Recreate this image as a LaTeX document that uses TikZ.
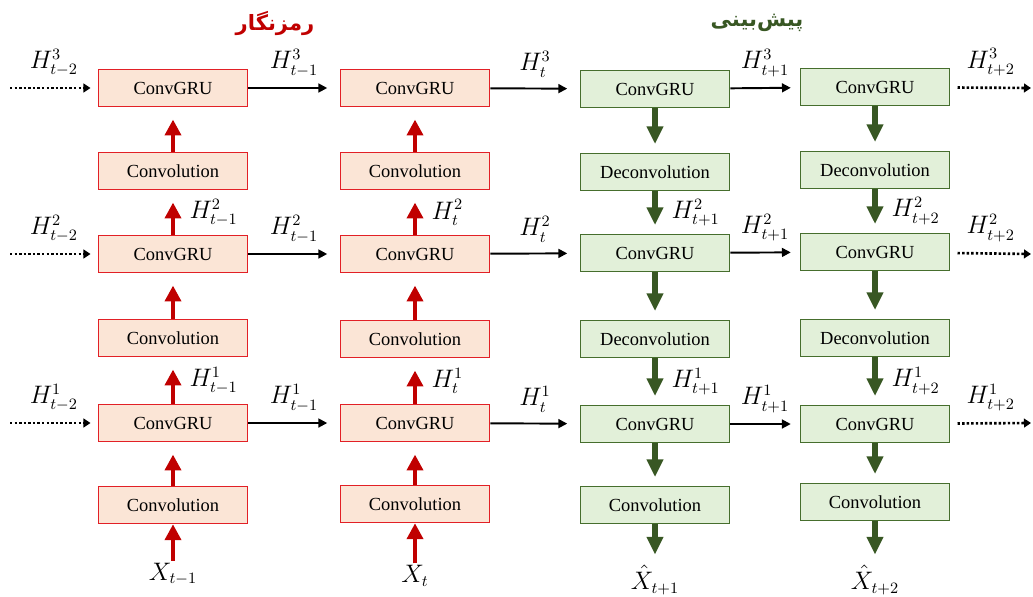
\documentclass[tikz,border=0pt]{standalone}
\usepackage{fontspec}
\setmainfont{Liberation Serif}
\newfontfamily\farsi[Script=Arabic]{DejaVu Sans}
\TeXXeTstate=1
\usetikzlibrary{arrows.meta,positioning}
\definecolor{encfill}{RGB}{251,229,214}
\definecolor{encline}{RGB}{226,32,38}
\definecolor{encarr}{RGB}{192,0,0}
\definecolor{decfill}{RGB}{226,240,217}
\definecolor{decline}{RGB}{70,110,45}
\definecolor{decarr}{RGB}{56,87,35}
\tikzset{
	encbox/.style={draw=encline, fill=encfill, line width=0.9pt, minimum width=85pt, minimum height=21pt, inner sep=0pt, font=\fontsize{10.5}{12}\selectfont},
	decbox/.style={draw=decline, fill=decfill, line width=0.9pt, minimum width=85pt, minimum height=21pt, inner sep=0pt, font=\fontsize{10.5}{12}\selectfont},
	encarrow/.style={draw=encarr, line width=2.8pt, -{Triangle[width=9pt,length=9pt]}, shorten >=7pt},
	decarrow/.style={draw=decarr, line width=3pt, -{Triangle[width=9pt,length=10pt]}, shorten >=5pt},
	flow/.style={draw=black, line width=1.1pt, -{Triangle[width=5pt,length=5pt]}, shorten >=7pt},
	dotflow/.style={draw=black, line width=1.5pt, dash pattern=on 1.4pt off 1.2pt, -{Triangle[width=5pt,length=4pt]}},
	lab/.style={font=\fontsize{13.5}{15}\selectfont, inner sep=1pt}
}
\begin{document}
\begin{tikzpicture}[x=0.02cm, y=-0.02cm]
		\useasboundingbox (0,0) rectangle (1033,596);
		% titles
		\node (enctitle) at (275,23) {\color{encarr}\farsi\bfseries\fontsize{12}{14}\selectfont\beginR رمزنگار\endR};
		\node (dectitle) at (757,23) {\color{decarr}\farsi\bfseries\fontsize{12}{14}\selectfont\beginR پیش‌بینی\endR};
		% encoder, t-1
		\node [encbox] (g13) at (173,88) {ConvGRU};
		\node [encbox] (c13) at (173,171) {Convolution};
		\node [encbox] (g12) at (173,254) {ConvGRU};
		\node [encbox] (c12) at (173,338) {Convolution};
		\node [encbox] (g11) at (173,423) {ConvGRU};
		\node [encbox] (c11) at (173,505) {Convolution};
		\node [lab] (x1) at (173,574) {$X_{t-1}$};
		% encoder, t
		\node [encbox] (g23) at (415,88) {ConvGRU};
		\node [encbox] (c23) at (415,171) {Convolution};
		\node [encbox] (g22) at (415,254) {ConvGRU};
		\node [encbox] (c22) at (415,339) {Convolution};
		\node [encbox] (g21) at (415,423) {ConvGRU};
		\node [encbox] (c21) at (415,504) {Convolution};
		\node [lab] (x2) at (415,576) {$X_{t}$};
		% prediction, t+1
		\node [decbox] (g33) at (655,89) {ConvGRU};
		\node [decbox] (d33) at (655,172) {Deconvolution};
		\node [decbox] (g32) at (655,253) {ConvGRU};
		\node [decbox] (d32) at (655,339) {Deconvolution};
		\node [decbox] (g31) at (655,424) {ConvGRU};
		\node [decbox] (c31) at (655,505) {Convolution};
		\node [lab] (y3) at (655,580) {$\hat{X}_{t+1}$};
		% prediction, t+2
		\node [decbox] (g43) at (875,87) {ConvGRU};
		\node [decbox] (d43) at (875,170) {Deconvolution};
		\node [decbox] (g42) at (875,252) {ConvGRU};
		\node [decbox] (d42) at (875,338) {Deconvolution};
		\node [decbox] (g41) at (875,424) {ConvGRU};
		\node [decbox] (c41) at (875,502) {Convolution};
		\node [lab] (y4) at (875,580) {$\hat{X}_{t+2}$};
		% loose ends
		\coordinate (in3) at (10,88);
		\coordinate (in2) at (10,254);
		\coordinate (in1) at (10,423);
		\coordinate (out3) at (1031,88);
		\coordinate (out2) at (1031,254);
		\coordinate (out1) at (1031,423);
		% encoder arrows
		\draw [encarrow, shorten >=0pt] (x1) -- (c11);
		\draw [encarrow] (c11) -- (g11);
		\draw [encarrow] (g11) -- (c12) node [lab, midway, right=7pt] {$H^1_{t-1}$};
		\draw [encarrow] (c12) -- (g12);
		\draw [encarrow] (g12) -- (c13) node [lab, midway, right=7pt] {$H^2_{t-1}$};
		\draw [encarrow] (c13) -- (g13);
		\draw [encarrow, shorten >=0pt] (x2) -- (c21);
		\draw [encarrow] (c21) -- (g21);
		\draw [encarrow] (g21) -- (c22) node [lab, midway, right=7pt] {$H^1_{t}$};
		\draw [encarrow] (c22) -- (g22);
		\draw [encarrow] (g22) -- (c23) node [lab, midway, right=7pt] {$H^2_{t}$};
		\draw [encarrow] (c23) -- (g23);
		% prediction arrows
		\draw [decarrow] (g33) -- (d33);
		\draw [decarrow] (d33) -- (g32) node [lab, midway, right=7pt] {$H^2_{t+1}$};
		\draw [decarrow] (g32) -- (d32);
		\draw [decarrow] (d32) -- (g31) node [lab, midway, right=7pt] {$H^1_{t+1}$};
		\draw [decarrow] (g31) -- (c31);
		\draw [decarrow] (c31) -- (y3);
		\draw [decarrow] (g43) -- (d43);
		\draw [decarrow] (d43) -- (g42) node [lab, midway, right=7pt] {$H^2_{t+2}$};
		\draw [decarrow] (g42) -- (d42);
		\draw [decarrow] (d42) -- (g41) node [lab, midway, right=7pt] {$H^1_{t+2}$};
		\draw [decarrow] (g41) -- (c41);
		\draw [decarrow] (c41) -- (y4);
		% hidden states in time
		\draw [dotflow, shorten >=4pt] (in3) -- (g13) node [lab, midway, above=5pt] {$H^3_{t-2}$};
		\draw [dotflow, shorten >=4pt] (in2) -- (g12) node [lab, midway, above=5pt] {$H^2_{t-2}$};
		\draw [dotflow, shorten >=4pt] (in1) -- (g11) node [lab, midway, above=5pt] {$H^1_{t-2}$};
		\draw [flow] (g13) -- (g23) node [lab, midway, above=5pt] {$H^3_{t-1}$};
		\draw [flow] (g12) -- (g22) node [lab, midway, above=5pt] {$H^2_{t-1}$};
		\draw [flow] (g11) -- (g21) node [lab, midway, above=5pt] {$H^1_{t-1}$};
		\draw [flow] (g23) -- (g33) node [lab, midway, above=5pt] {$H^3_{t}$};
		\draw [flow] (g22) -- (g32) node [lab, midway, above=5pt] {$H^2_{t}$};
		\draw [flow] (g21) -- (g31) node [lab, midway, above=5pt] {$H^1_{t}$};
		\draw [flow, shorten >=5pt] (g33) -- (g43) node [lab, midway, above=5pt] {$H^3_{t+1}$};
		\draw [flow, shorten >=5pt] (g32) -- (g42) node [lab, midway, above=5pt] {$H^2_{t+1}$};
		\draw [flow, shorten >=5pt] (g31) -- (g41) node [lab, midway, above=5pt] {$H^1_{t+1}$};
		\draw [dotflow, shorten <=4pt] (g43) -- (out3) node [lab, midway, above=5pt] {$H^3_{t+2}$};
		\draw [dotflow, shorten <=4pt] (g42) -- (out2) node [lab, midway, above=5pt] {$H^2_{t+2}$};
		\draw [dotflow, shorten <=4pt] (g41) -- (out1) node [lab, midway, above=5pt] {$H^1_{t+2}$};
\end{tikzpicture}
\end{document}
